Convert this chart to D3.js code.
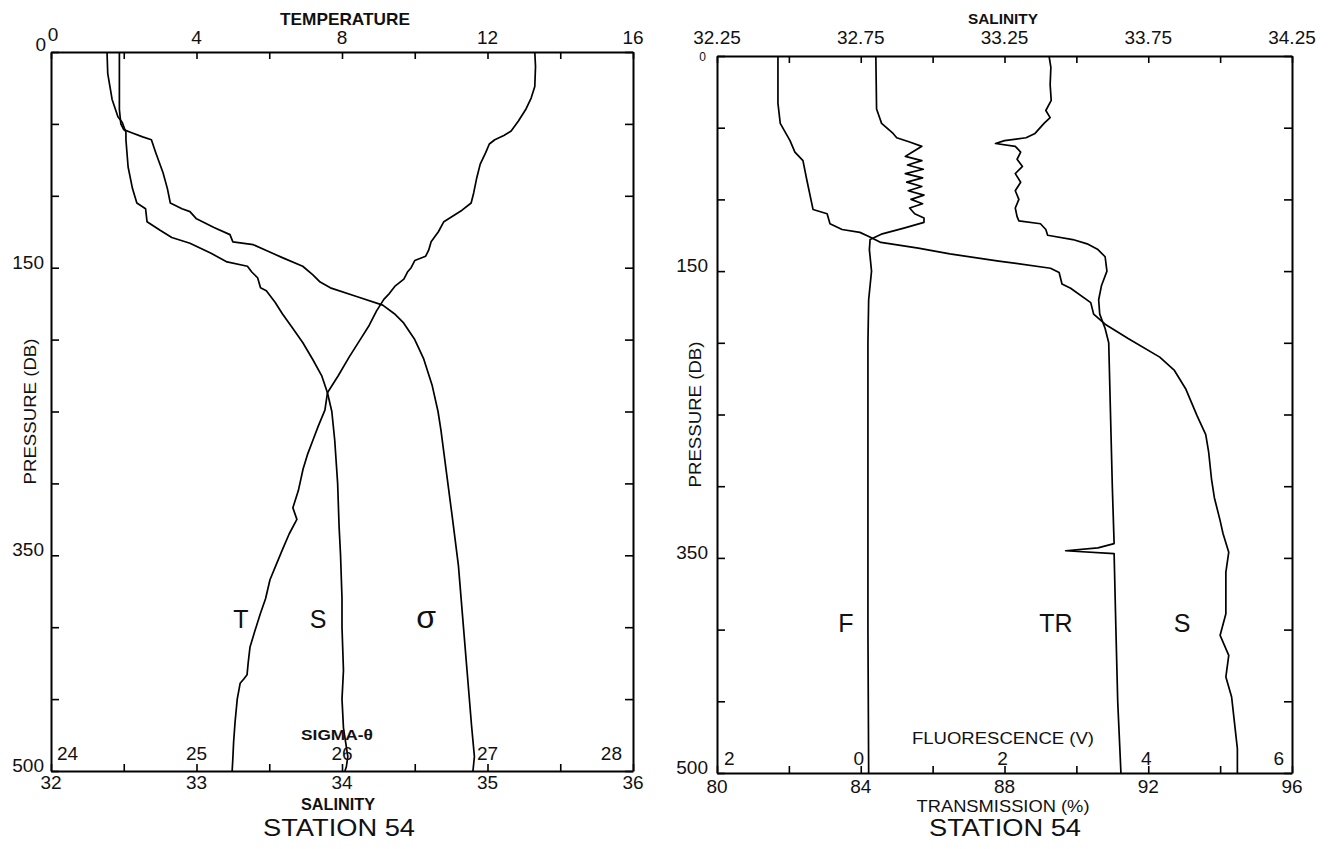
<!DOCTYPE html>
<html><head><meta charset="utf-8">
<script src="https://cdn.jsdelivr.net/npm/d3@7"></script>
<style>
body{margin:0;background:#fff;}
svg{display:block;font-family:"Liberation Sans",Arial,sans-serif;}
</style></head><body>
<svg id="c" width="1330" height="849"></svg>
<script>
// ---------- LEFT PANEL DATA (pressure dB, value) ----------
const tempP = [0,10,24,32,40,48,55,58,61,64,70,78,88,98,105,110,114,118,125,132,138,142,145,150,153,158,163,168,172,176,180,190,200,212,225,237,249,260,270,280,290,305,317,325,335,345,356,367,380,391,403,414,425,433,436,439,450,466,480,491,500];
const tempV = [13.3,13.32,13.3,13.2,13.05,12.85,12.65,12.45,12.2,12.05,11.95,11.8,11.7,11.62,11.55,11.3,11.05,10.8,10.65,10.45,10.38,10.3,10.0,9.9,9.8,9.7,9.45,9.3,9.15,9.05,8.95,8.75,8.5,8.2,7.9,7.6,7.53,7.35,7.2,7.05,6.93,6.8,6.65,6.76,6.55,6.38,6.2,6.02,5.9,5.75,5.6,5.47,5.42,5.39,5.3,5.2,5.12,5.06,5.02,5.0,4.98];

const salLP = [0,15,33,45,49,56,61,80,95,105,109,118,124,129,133,140,146,149,153,157,164,166,174,182,192,202,214,225,237,250,270,300,330,350,380,400,430,450,470,490,497,500];
const salLV = [32.385,32.39,32.42,32.46,32.49,32.515,32.515,32.53,32.56,32.59,32.65,32.66,32.75,32.83,32.955,33.1,33.21,33.35,33.38,33.42,33.44,33.48,33.54,33.59,33.66,33.73,33.8,33.86,33.9,33.93,33.95,33.97,33.98,33.99,34.0,34.0,34.01,34.0,34.01,34.04,34.03,34.02];

const sigP = [0,20,40,50,54,56,59,61,70,84,95,105,109,111,116,122,127,132,134,138,143,149,155,160,164,170,176,182,188,200,213,232,250,263,294,325,357,394,431,468,490,500];
const sigV = [24.47,24.47,24.47,24.48,24.5,24.55,24.63,24.69,24.72,24.77,24.8,24.82,24.9,24.955,25.0,25.12,25.23,25.25,25.39,25.48,25.59,25.73,25.8,25.85,25.92,26.1,26.28,26.36,26.42,26.5,26.56,26.62,26.66,26.68,26.72,26.76,26.8,26.83,26.86,26.89,26.91,26.9];

// ---------- RIGHT PANEL DATA ----------
const salRP = [0,33,47,59,67,73,87,107,110,117,121,123,126,130,134,138,143,148,151,159,162,172,180,187,197,210,219,232,251,264,276,295,308,324,333,346,360,389,404,418,433,447,465,483,500];
const salRV = [32.462,32.462,32.47,32.504,32.521,32.549,32.563,32.584,32.633,32.643,32.685,32.747,32.78,32.82,32.95,33.06,33.23,33.41,33.44,33.45,33.48,33.55,33.56,33.6,33.68,33.79,33.84,33.88,33.92,33.95,33.96,33.97,33.98,34.0,34.01,34.03,34.02,34.02,34.0,34.03,34.02,34.04,34.05,34.06,34.06];

const fluoP = [0,37,47,54,57,60,63,67,70,73,76,79,82,85,88,91,94,97,100,103,106,110,113,116,120,124,128,135,150,170,200,300,400,500];
const fluoV = [0.21,0.22,0.29,0.45,0.5,0.68,0.85,0.72,0.62,0.85,0.65,0.87,0.62,0.86,0.64,0.85,0.66,0.88,0.7,0.86,0.68,0.75,0.88,0.88,0.6,0.3,0.13,0.12,0.15,0.11,0.1,0.1,0.1,0.11];

const transP = [0,8,20,31,38,43,47,54,57,59,61,63,67,72,77,82,88,94,100,106,112,115,117,121,125,128,131,135,140,150,160,170,180,190,200,250,300,340,343,345,347,400,450,500];
const transV = [89.24,89.29,89.27,89.3,89.15,89.27,89.1,88.85,88.6,88.0,87.75,88.3,88.45,88.35,88.5,88.3,88.45,88.3,88.4,88.3,88.35,88.4,89.0,89.15,89.2,89.9,90.3,90.6,90.8,90.85,90.7,90.62,90.65,90.8,90.9,90.95,91.0,91.05,90.6,89.7,91.05,91.1,91.15,91.24];

// ---------- TICK LABELS ----------
const pressTicks = [0,150,350,500];
const tempTicks = [0,4,8,12,16];
const salLTicks = [32,33,34,35,36];
const sigmaTicks = [24,25,26,27,28];
const salRTicks = [32.25,32.75,33.25,33.75,34.25];
const transTicks = [80,84,88,92,96];
const fluoTicks = [-2,0,2,4,6];
const fluoLabels = ["2","0","2","4","6"];

const svg = d3.select("#c");

function frameAxes(g, y, xStep, xTop, xBot) {
  const [x0, x1] = xTop.range(); const [y0, y1] = y.range();
  const pt = d3.range(0, 501, 50);
  const st = (sel) => { sel.select(".domain").attr("stroke","#000").attr("stroke-width",2);
    sel.selectAll(".tick line").attr("stroke","#000").attr("stroke-width",1.6); sel.selectAll("text").remove(); };
  g.append("g").attr("transform",`translate(${x0},0)`).call(d3.axisLeft(y).tickValues(pt).tickSize(-8).tickSizeOuter(0)).call(st);
  g.append("g").attr("transform",`translate(${x1},0)`).call(d3.axisRight(y).tickValues(pt).tickSize(-8).tickSizeOuter(0)).call(st);
  g.append("g").attr("transform",`translate(0,${y0})`).call(d3.axisTop(xTop).tickValues(d3.range(xTop.domain()[0], xTop.domain()[1]+1e-9, xStep[0])).tickSize(-7).tickSizeOuter(0)).call(st);
  g.append("g").attr("transform",`translate(0,${y1})`).call(d3.axisBottom(xBot).tickValues(d3.range(xBot.domain()[0], xBot.domain()[1]+1e-9, xStep[1])).tickSize(-7).tickSizeOuter(0)).call(st);
}

function txt(g, x, y, s, o = {}) {
  const t = g.append("text").attr("x", x).attr("y", y).text(s)
    .attr("text-anchor", o.anchor || "middle").attr("font-size", o.size || 19)
    .attr("font-weight", o.weight || "normal").attr("fill", "#111");
  if (o.len) t.attr("textLength", o.len).attr("lengthAdjust", "spacingAndGlyphs");
  if (o.rot) t.attr("transform", `rotate(-90,${x},${y})`);
  return t;
}

function curve(g, xs, y, P, V) {
  const data = P.map((p, i) => [p, V[i]]);
  g.append("path").datum(data)
    .attr("d", d3.line().x(d => xs(d[1])).y(d => y(d[0])))
    .attr("fill","none").attr("stroke","#000").attr("stroke-width",1.7).attr("stroke-linejoin","round");
}

// ================= LEFT PANEL =================
{
  const g = svg.append("g");
  const y = d3.scaleLinear().domain([0,500]).range([52,771]);
  const xT = d3.scaleLinear().domain([0,16]).range([51,633]);
  const xS = d3.scaleLinear().domain([32,36]).range([51,633]);
  const xG = d3.scaleLinear().domain([24,28]).range([51,633]);
  frameAxes(g, y, [2,0.5], xT, xS);
  curve(g, xT, y, tempP, tempV);
  curve(g, xS, y, salLP, salLV);
  curve(g, xG, y, sigP, sigV);
  txt(g, 345, 25, "TEMPERATURE", {size:17, weight:"bold", len:130});
  tempTicks.forEach(v => txt(g, xT(v) + (v===0?2:0), v===0?41:44, String(v)));
  pressTicks.forEach(v => txt(g, v===0?46:44, y(v) + (v===0?-1:1), String(v), {anchor:"end"}));
  txt(g, 36, y(250), "PRESSURE (DB)", {size:17, rot:true, len:146});
  salLTicks.forEach(v => txt(g, xS(v), 789, String(v)));
  sigmaTicks.forEach((v,i) => {
    const first = i===0, last = i===sigmaTicks.length-1;
    txt(g, first ? xG(v)+6 : last ? xG(v)-11 : xG(v), 760, String(v), {anchor: first?"start":last?"end":"middle"});
  });
  txt(g, 337, 740, "SIGMA-θ", {size:14, weight:"bold", len:72});
  txt(g, 338, 810, "SALINITY", {size:16, weight:"bold", len:74});
  txt(g, 339, 836, "STATION 54", {size:24, len:152});
  txt(g, 241, 628, "T", {size:25});
  txt(g, 318, 628, "S", {size:25});
  txt(g, 426, 628, "σ", {size:32});
}

// ================= RIGHT PANEL =================
{
  const g = svg.append("g");
  const y = d3.scaleLinear().domain([0,500]).range([56,773]);
  const xS = d3.scaleLinear().domain([32.25,34.25]).range([717,1292]);
  const xTr = d3.scaleLinear().domain([80,96]).range([717,1292]);
  const xF = d3.scaleLinear().domain([-2,6]).range([717,1292]);
  frameAxes(g, y, [0.25,2], xS, xTr);
  curve(g, xS, y, salRP, salRV);
  curve(g, xF, y, fluoP, fluoV);
  curve(g, xTr, y, transP, transV);
  txt(g, 1003, 24, "SALINITY", {size:15, weight:"bold", len:70});
  salRTicks.forEach(v => txt(g, xS(v), 44, v.toFixed(2)));
  pressTicks.forEach(v => v===0
    ? txt(g, 706, 61, "0", {anchor:"end", size:12})
    : txt(g, 708, y(v) + 1, String(v), {anchor:"end"}));
  txt(g, 701, y(250), "PRESSURE (DB)", {size:17, rot:true, len:146});
  transTicks.forEach(v => txt(g, xTr(v), 793, String(v)));
  fluoTicks.forEach((v,i) => {
    const first = i===0, last = i===fluoTicks.length-1;
    txt(g, first ? xF(v)+7 : last ? xF(v)-8 : xF(v)-2, 765, fluoLabels[i], {anchor: first?"start":last?"end":"middle"});
  });
  txt(g, 1003, 744, "FLUORESCENCE (V)", {size:16, len:182});
  txt(g, 1003, 812, "TRANSMISSION (%)", {size:17, len:173});
  txt(g, 1005, 836, "STATION 54", {size:24, len:152});
  txt(g, 846, 632, "F", {size:25});
  txt(g, 1056, 632, "TR", {size:25});
  txt(g, 1182, 632, "S", {size:25});
}
</script>
</body></html>
